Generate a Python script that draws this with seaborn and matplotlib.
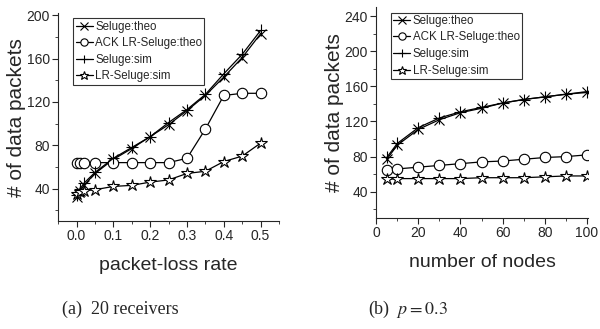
import matplotlib
matplotlib.use('Agg')
import matplotlib.pyplot as plt
from matplotlib.ticker import AutoMinorLocator
import seaborn as sns
import pandas as pd

# (a) 20 receivers
loss_rate = [0.0, 0.01, 0.02, 0.05, 0.1, 0.15, 0.2, 0.25, 0.3, 0.35, 0.4, 0.45, 0.5]
seluge_theo_a = [32, 38, 43, 54, 67, 77, 88, 99, 112, 126, 143, 161, 183]
ack_theo_a = [64, 64, 64, 64, 64, 64, 64, 64, 68, 95, 126, 128, 128]
seluge_sim_a = [34, 40, 45, 55, 68, 78, 88, 101, 113, 127, 146, 164, 186]
lr_sim_a = [35, 37, 38, 39, 42, 43, 46, 48, 54, 56, 65, 70, 82]

# (b) p = 0.3
nodes = [5, 10, 20, 30, 40, 50, 60, 70, 80, 90, 100]
seluge_theo_b = [77, 93, 111, 122, 130, 135, 141, 145, 148, 151, 153]
ack_theo_b = [65, 66, 68, 70, 72, 74, 75, 77, 79, 80, 82]
seluge_sim_b = [79, 95, 113, 124, 131, 136, 141, 145, 148, 151, 154]
lr_sim_b = [54, 55, 55, 55, 55, 56, 56, 56, 57, 58, 58]

labels = ['Seluge:theo', 'ACK LR-Seluge:theo', 'Seluge:sim', 'LR-Seluge:sim']
markers = ['x', 'o', '+', '*']
msizes = [7.5, 7.5, 9, 9]

sns.set_style('ticks')
plt.rcParams['font.family'] = ['Liberation Sans', 'DejaVu Sans']
plt.rcParams['mathtext.fontset'] = 'stix'

fig = plt.figure(figsize=(6, 3.29), dpi=100)
ax1 = fig.add_axes([0.097, 0.328, 0.368, 0.632])
ax2 = fig.add_axes([0.627, 0.337, 0.353, 0.641])


def draw(ax, x, series):
    for ys, lab, m, ms in zip(series, labels, markers, msizes):
        df = pd.DataFrame({'x': x, 'y': ys})
        sns.lineplot(data=df, x='x', y='y', ax=ax, color='black', lw=0.9,
                     marker=m, markersize=ms, mfc='white', mec='black',
                     mew=0.8, label=lab)
    ax.legend(loc='upper left', bbox_to_anchor=(0.068, 0.975),
              frameon=True, fancybox=False, fontsize=8.3,
              edgecolor='black', handlelength=1.5, handletextpad=0.2,
              borderpad=0.2, labelspacing=0.4, borderaxespad=0,
              markerscale=0.7)
    ax.get_legend().get_frame().set_linewidth(0.8)
    sns.despine(ax=ax)
    ax.yaxis.set_minor_locator(AutoMinorLocator(2))
    ax.xaxis.set_minor_locator(AutoMinorLocator(2))
    ax.tick_params(which='major', length=4, width=0.8, labelsize=10, pad=2)
    ax.tick_params(which='minor', length=2, width=0.6)
    for s in ax.spines.values():
        s.set_linewidth(0.8)
    ax.set_ylabel('# of data packets', fontsize=15, labelpad=0)


draw(ax1, loss_rate, [seluge_theo_a, ack_theo_a, seluge_sim_a, lr_sim_a])
ax1.set_xlim(-0.05, 0.55)
ax1.set_ylim(10, 202)
ax1.set_xticks([0.0, 0.1, 0.2, 0.3, 0.4, 0.5])
ax1.set_yticks([40, 80, 120, 160, 200])
ax1.set_xlabel('packet-loss rate', fontsize=14, labelpad=10)

draw(ax2, nodes, [seluge_theo_b, ack_theo_b, seluge_sim_b, lr_sim_b])
ax2.set_xlim(0, 100.5)
ax2.set_ylim(10, 250)
ax2.set_xticks([0, 20, 40, 60, 80, 100])
ax2.set_yticks([40, 80, 120, 160, 200, 240])
ax2.set_xlabel('number of nodes', fontsize=14, labelpad=10)

fig.text(0.2, 0.045, '(a)  20 receivers', ha='center', fontsize=13,
         family='Liberation Serif')
fig.text(0.68, 0.045, '(b)  $p = 0.3$', ha='center', fontsize=13,
         family='Liberation Serif')

fig.savefig('out.png', dpi=100)
